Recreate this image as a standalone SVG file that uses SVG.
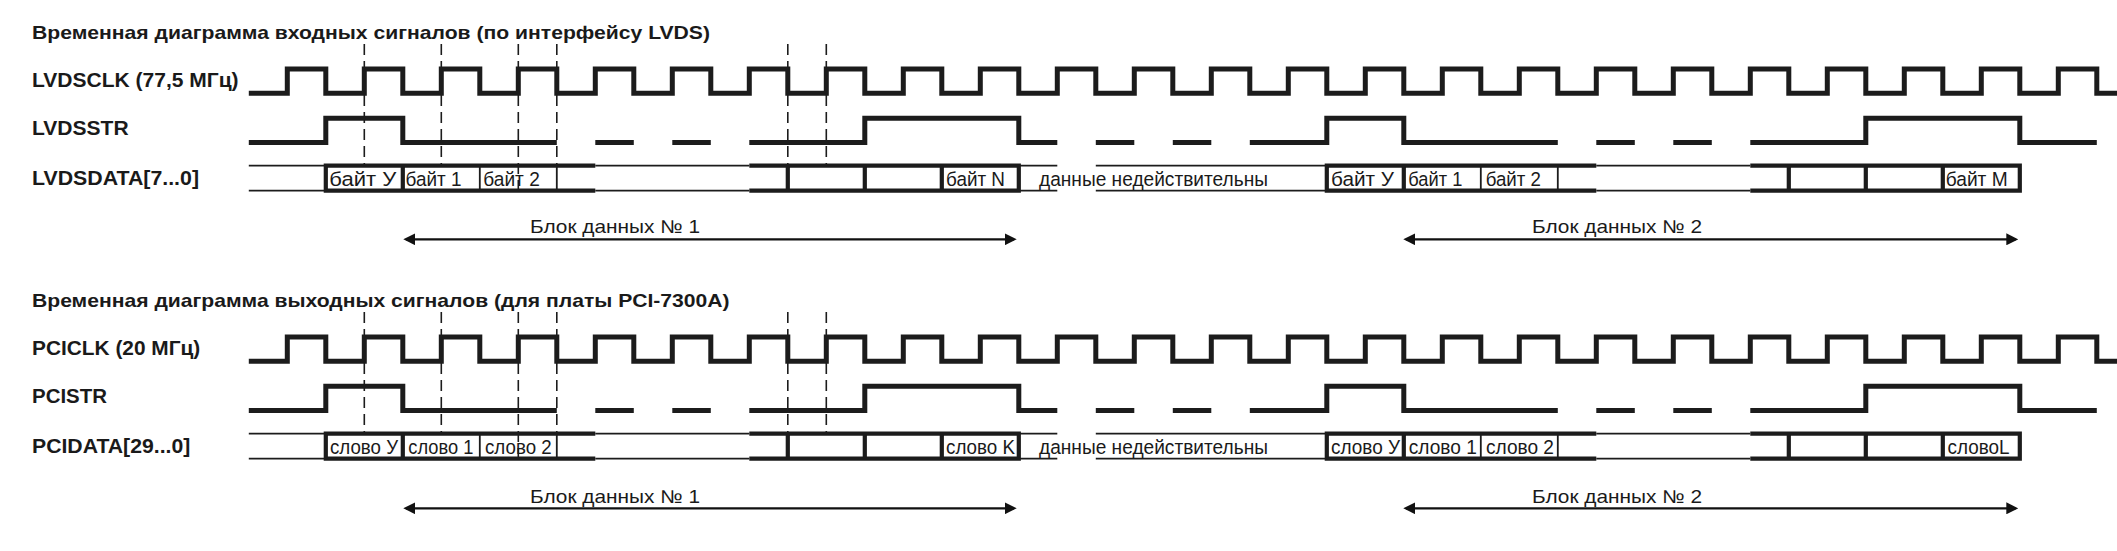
<svg xmlns="http://www.w3.org/2000/svg" xmlns:xlink="http://www.w3.org/1999/xlink" width="2117" height="551" viewBox="0 0 2117 551">
<style>
.wave{fill:none;stroke:#1c1c1c;stroke-width:5;stroke-linejoin:miter;stroke-linecap:butt}
.thin{fill:none;stroke:#1c1c1c;stroke-width:1.8}
.thick{fill:none;stroke:#1c1c1c;stroke-width:4.2}
.dash{fill:none;stroke:#1c1c1c;stroke-width:1.6;stroke-dasharray:11 6}
.arr{fill:none;stroke:#111;stroke-width:2.2;marker-start:url(#ah);marker-end:url(#ah)}
.title{font-family:"Liberation Sans",Arial,sans-serif;font-weight:bold;font-size:19px;fill:#1a1a1a}
.lbl{font-family:"Liberation Sans",Arial,sans-serif;font-weight:bold;font-size:20.7px;fill:#1a1a1a}
.dt{font-family:"Liberation Sans",Arial,sans-serif;font-size:20.5px;fill:#1a1a1a}
.blk{font-family:"Liberation Sans",Arial,sans-serif;font-size:18.5px;fill:#1a1a1a}
</style>
<defs>
<marker id="ah" viewBox="0 0 12 12" refX="9.3" refY="6" markerWidth="12" markerHeight="12" markerUnits="userSpaceOnUse" orient="auto-start-reverse">
<path d="M0,0L12,6L0,12z" fill="#111"/>
</marker>
<g id="wave">
<path class="wave" d="M248.8,93.3h38.5v-24.3h38.5v24.3h38.5v-24.3h38.5v24.3h38.5v-24.3h38.5v24.3h38.5v-24.3h38.5v24.3h38.5v-24.3h38.5v24.3h38.5v-24.3h38.5v24.3h38.5v-24.3h38.5v24.3h38.5v-24.3h38.5v24.3h38.5v-24.3h38.5v24.3h38.5v-24.3h38.5v24.3h38.5v-24.3h38.5v24.3h38.5v-24.3h38.5v24.3h38.5v-24.3h38.5v24.3h38.5v-24.3h38.5v24.3h38.5v-24.3h38.5v24.3h38.5v-24.3h38.5v24.3h38.5v-24.3h38.5v24.3h38.5v-24.3h38.5v24.3h38.5v-24.3h38.5v24.3h38.5v-24.3h38.5v24.3h38.5v-24.3h38.5v24.3h38.5v-24.3h38.5v24.3h38.5v-24.3h38.5v24.3h38.5v-24.3h38.5v24.3h38.5v-24.3h38.5"/>
<path class="wave" d="M248.8,142.5H325.8V118.2H402.8V142.5H556.8M595.3,142.5H633.8M672.3,142.5H710.8M749.3,142.5H864.8V118.2H1018.8V142.5H1057.3M1095.8,142.5H1134.3M1172.8,142.5H1211.3M1249.8,142.5H1326.8V118.2H1403.8V142.5H1557.8M1596.3,142.5H1634.8M1673.3,142.5H1711.8M1750.3,142.5H1865.8V118.2H2019.8V142.5H2096.8"/>
<path class="thin" d="M248.8,165.7H325.8M248.8,190.7H325.8M595.3,165.7H749.3M595.3,190.7H749.3M1018.8,165.7H1057.3M1018.8,190.7H1057.3M1095.8,165.7H1326.8M1095.8,190.7H1326.8M1596.3,165.7H1750.3M1596.3,190.7H1750.3M479.8,165.7V190.7M556.8,165.7V190.7M1480.8,165.7V190.7M1557.8,165.7V190.7"/>
<path class="thick" d="M325.8,165.7H595.3M325.8,190.7H595.3M749.3,165.7H1018.8M749.3,190.7H1018.8M1326.8,165.7H1596.3M1326.8,190.7H1596.3M1750.3,165.7H2019.8M1750.3,190.7H2019.8M325.8,163.6V192.8M402.8,163.6V192.8M787.8,163.6V192.8M864.8,163.6V192.8M941.8,163.6V192.8M1018.8,163.6V192.8M1326.8,163.6V192.8M1403.8,163.6V192.8M1788.8,163.6V192.8M1865.8,163.6V192.8M1942.8,163.6V192.8M2019.8,163.6V192.8"/>
<path class="dash" d="M364.3,44V165M441.3,44V165M518.3,44V190M556.8,44V165M787.8,44V165M826.3,44V165"/>
</g>
</defs>

<g id="input-diagram">
<text class="title" x="32" y="39" textLength="678" lengthAdjust="spacingAndGlyphs">Временная диаграмма входных сигналов (по интерфейсу LVDS)</text>
<g id="lvds-labels">
<text class="lbl" x="32" y="87.3" textLength="206.6" lengthAdjust="spacingAndGlyphs">LVDSCLK (77,5 МГц)</text>
<text class="lbl" x="32" y="135" textLength="96.6" lengthAdjust="spacingAndGlyphs">LVDSSTR</text>
<text class="lbl" x="32" y="185" textLength="167" lengthAdjust="spacingAndGlyphs">LVDSDATA[7...0]</text>
</g>
<g id="lvds-waves"><use xlink:href="#wave" href="#wave"/></g>
<g id="lvds-data-text">
<text class="dt" x="329.3" y="185.8" textLength="67" lengthAdjust="spacingAndGlyphs">байт У</text>
<text class="dt" x="405.5" y="185.8" textLength="56" lengthAdjust="spacingAndGlyphs">байт 1</text>
<text class="dt" x="483.3" y="185.8" textLength="56.5" lengthAdjust="spacingAndGlyphs">байт 2</text>
<text class="dt" x="946" y="185.8" textLength="59" lengthAdjust="spacingAndGlyphs">байт N</text>
<text class="dt" x="1039" y="185.8" textLength="229" lengthAdjust="spacingAndGlyphs">данные недействительны</text>
<text class="dt" x="1331" y="185.8" textLength="63" lengthAdjust="spacingAndGlyphs">байт У</text>
<text class="dt" x="1408.3" y="185.8" textLength="54" lengthAdjust="spacingAndGlyphs">байт 1</text>
<text class="dt" x="1485.7" y="185.8" textLength="55.3" lengthAdjust="spacingAndGlyphs">байт 2</text>
<text class="dt" x="1945.7" y="185.8" textLength="62" lengthAdjust="spacingAndGlyphs">байт M</text>
</g>
<g id="lvds-block1">
<text class="blk" x="530" y="233.3" textLength="170" lengthAdjust="spacingAndGlyphs">Блок данных № 1</text>
</g>
<g id="lvds-block2">
<text class="blk" x="1532" y="233.3" textLength="170" lengthAdjust="spacingAndGlyphs">Блок данных № 2</text>
</g>
</g>

<g id="output-diagram">
<text class="title" x="32" y="307.3" textLength="697.6" lengthAdjust="spacingAndGlyphs">Временная диаграмма выходных сигналов (для платы PCI-7300A)</text>
<g id="pci-labels">
<text class="lbl" x="32" y="355.3" textLength="168.3" lengthAdjust="spacingAndGlyphs">PCICLK (20 МГц)</text>
<text class="lbl" x="32" y="403" textLength="75" lengthAdjust="spacingAndGlyphs">PCISTR</text>
<text class="lbl" x="32" y="453" textLength="158.3" lengthAdjust="spacingAndGlyphs">PCIDATA[29...0]</text>
</g>
<g id="pci-waves"><use xlink:href="#wave" href="#wave" y="268"/></g>
<g id="pci-data-text">
<text class="dt" x="330" y="453.6" textLength="68" lengthAdjust="spacingAndGlyphs">слово У</text>
<text class="dt" x="408.3" y="453.6" textLength="65" lengthAdjust="spacingAndGlyphs">слово 1</text>
<text class="dt" x="485" y="453.6" textLength="66.7" lengthAdjust="spacingAndGlyphs">слово 2</text>
<text class="dt" x="946" y="453.6" textLength="69" lengthAdjust="spacingAndGlyphs">слово K</text>
<text class="dt" x="1039" y="453.6" textLength="229" lengthAdjust="spacingAndGlyphs">данные недействительны</text>
<text class="dt" x="1331" y="453.6" textLength="69" lengthAdjust="spacingAndGlyphs">слово У</text>
<text class="dt" x="1408.8" y="453.6" textLength="68" lengthAdjust="spacingAndGlyphs">слово 1</text>
<text class="dt" x="1486" y="453.6" textLength="68" lengthAdjust="spacingAndGlyphs">слово 2</text>
<text class="dt" x="1947.6" y="453.6" textLength="62" lengthAdjust="spacingAndGlyphs">словоL</text>
</g>
<g id="pci-block1">
<text class="blk" x="530" y="502.8" textLength="170" lengthAdjust="spacingAndGlyphs">Блок данных № 1</text>
</g>
<g id="pci-block2">
<text class="blk" x="1532" y="502.8" textLength="170" lengthAdjust="spacingAndGlyphs">Блок данных № 2</text>
</g>
</g>

<g id="connectors">
<line class="arr" x1="406" y1="239.3" x2="1014" y2="239.3"/>
<line class="arr" x1="1406" y1="239.3" x2="2015.6" y2="239.3"/>
<line class="arr" x1="406" y1="508.3" x2="1014" y2="508.3"/>
<line class="arr" x1="1406" y1="508.3" x2="2015.6" y2="508.3"/>
</g>
</svg>
